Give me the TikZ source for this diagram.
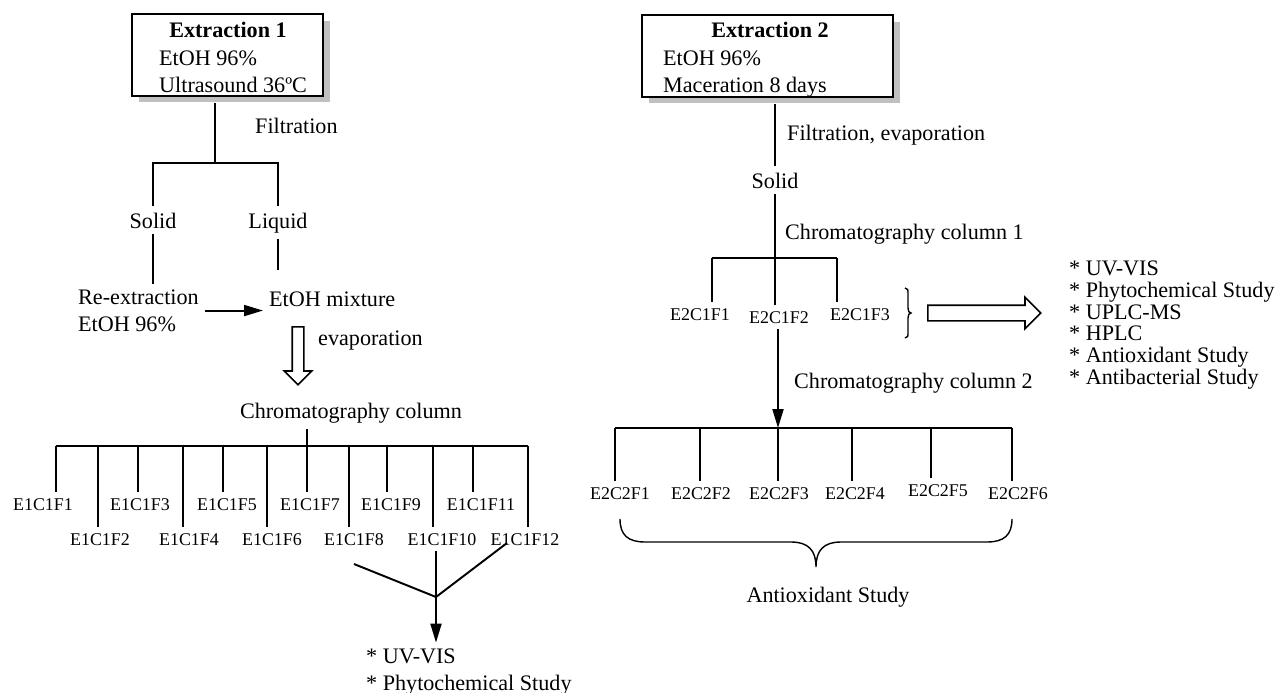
\documentclass[tikz,border=0pt]{standalone}
\usepackage{fontspec}
\setmainfont{Liberation Serif}
\usetikzlibrary{arrows.meta, shadows, shapes.arrows, calc}
\definecolor{inkshade}{HTML}{C0C0C0}

\tikzset{
  tree/.style={line width=1.1pt},
  arr/.style={line width=1.1pt, -{Triangle[length=0.38cm, width=0.22cm]}},
  curly/.style={line width=0.8pt},
  stagebox/.style={draw, line width=1.1pt, fill=white, inner sep=0pt,
    drop shadow={shadow xshift=0.14cm, shadow yshift=-0.13cm, fill=inkshade, opacity=1}},
  frac/.style={anchor=base, font=\fontsize{10.2}{12}\selectfont},
  hollow/.style={single arrow, draw, line width=0.9pt, inner xsep=0pt,
    single arrow head extend=0.16cm, anchor=tail},
}

\begin{document}
\begin{tikzpicture}[x=0.02cm, y=-0.02cm, font=\fontsize{12.6}{15.1}\selectfont]
  \useasboundingbox (0,0) rectangle (1275,693);

  % Extraction 1
  \node[stagebox, minimum width=3.82cm, minimum height=1.64cm] (ext1) at (227.5,55) {};
  \node[anchor=base] (ext1h) at (228,37) {\bfseries Extraction 1};
  \node[anchor=base west, align=left] (ext1b) at (153,92) {EtOH 96\%\\Ultrasound 36ºC};
  \coordinate (fil1) at (215,163);
  \draw[tree, shorten <=0.12cm] (fil1 |- ext1.south) -- (fil1);
  \node[anchor=base west] (filt1) at (249,133) {Filtration};
  \node[anchor=base] (sol1) at (153,228) {Solid};
  \node[anchor=base] (liq1) at (278,228) {Liquid};
  \draw[tree] (sol1.north) -- (sol1.north |- fil1) -- (liq1.north |- fil1) -- (liq1.north);
  \node[anchor=base west, align=left] (reex) at (72,331) {Re-extraction\\EtOH 96\%};
  \node[anchor=base west] (mix) at (263,306) {EtOH mixture};
  \draw[tree] (sol1.south) -- (sol1.south |- reex.north);
  \draw[tree, shorten >=0.3cm] (liq1.south) -- (liq1.south |- mix.north);
  \draw[arr] (reex.east) -- (reex.east -| mix.west);
  \node[hollow, rotate=-90, inner ysep=0.1cm, minimum height=1.16cm] (evap) at (298,326) {};
  \node[anchor=base west] (evapl) at (312,345) {evaporation};
  \node[anchor=base] (chr1) at (351,418) {Chromatography column};

  \foreach \i/\x/\lx in {1/56/43, 2/98/100, 3/138/140, 4/183/189, 5/223/227, 6/267/272,
                         7/307/310, 8/349/354, 9/387/391, 10/433/442, 11/473/481, 12/528/525}{%
    \ifodd\i \def\ly{510}\else \def\ly{545}\fi
    \coordinate (j\i) at (\x,446);
    \node[frac] (f\i) at (\lx,\ly) {E1C1F\i};
    \draw[tree] (j\i) -- (j\i |- f\i.north);}
  \draw[tree] (j1) -- (j12);
  \draw[tree] (j7 |- chr1.south) -- (j7);

  \coordinate (meet) at (436,597);
  \coordinate (g8) at (354,564);
  \coordinate (g12) at (507,543);
  \draw[tree] (g8) -- (meet) -- (g12);
  \node[anchor=base west, align=left] (use1) at (360,690) {* UV-VIS\\* Phytochemical Study};
  \draw[arr] (meet |- f10.south) -- (meet |- use1.north);

  % Extraction 2
  \node[stagebox, minimum width=5.02cm, minimum height=1.64cm] (ext2) at (767.5,56) {};
  \node[anchor=base] (ext2h) at (770,37) {\bfseries Extraction 2};
  \node[anchor=base west, align=left] (ext2b) at (657,92) {EtOH 96\%\\Maceration 8 days};
  \node[anchor=base] (sol2) at (775,188) {Solid};
  \draw[tree, shorten <=0.12cm] (sol2.north |- ext2.south) -- (sol2.north);
  \node[anchor=base west] (filt2) at (781,140) {Filtration, evaporation};
  \node[anchor=base west] (chr2) at (779,239) {Chromatography column 1};

  \foreach \i/\x/\lx/\ly in {1/712/700/320, 2/775/779/323, 3/837/860/320}{%
    \coordinate (q\i) at (\x,258);
    \node[frac] (p\i) at (\lx,\ly) {E2C1F\i};
    \draw[tree] (q\i) -- (q\i |- p\i.north);}
  \draw[tree] (q1) -- (q3);
  \draw[tree] (sol2.south) -- (q2);

  \draw[curly] (905,288) .. controls (908,288) and (908,290) .. (908,294) -- (908,308)
    .. controls (908,311) and (909,313) .. (911,313)
    .. controls (909,313) and (908,315) .. (908,318) -- (908,332)
    .. controls (908,336) and (908,338) .. (905,338);
  \node[hollow, inner ysep=0.14cm, minimum height=2.26cm] (toout) at (927,313) {};
  \node[anchor=base west, align=left, font=\fontsize{12.6}{12.3}\selectfont] (use2) at (1063,384)
    {* UV-VIS\\* Phytochemical Study\\* UPLC-MS\\* HPLC\\* Antioxidant Study\\* Antibacterial Study};

  \node[anchor=base west] (chr3) at (788,388) {Chromatography column 2};
  \foreach \i/\x/\lx/\ly in {1/615/620/499, 2/700/701/499, 3/778/779/499,
                             4/852/855/499, 5/931/938/496, 6/1012/1018/499}{%
    \coordinate (s\i) at (\x,428);
    \node[frac] (r\i) at (\lx,\ly) {E2C2F\i};
    \draw[tree] (s\i) -- (s\i |- r\i.north);}
  \draw[tree] (s1) -- (s6);
  \draw[arr] (s3 |- p2.south) -- (s3);

  \draw[curly] (620,519) .. controls (620,535) and (628,542) .. (645,542) -- (791,542)
    .. controls (808,542) and (816,550) .. (816,567)
    .. controls (816,550) and (824,542) .. (841,542) -- (987,542)
    .. controls (1004,542) and (1012,535) .. (1012,519);
  \node[anchor=base] (anti) at (828,602) {Antioxidant Study};
\end{tikzpicture}
\end{document}
